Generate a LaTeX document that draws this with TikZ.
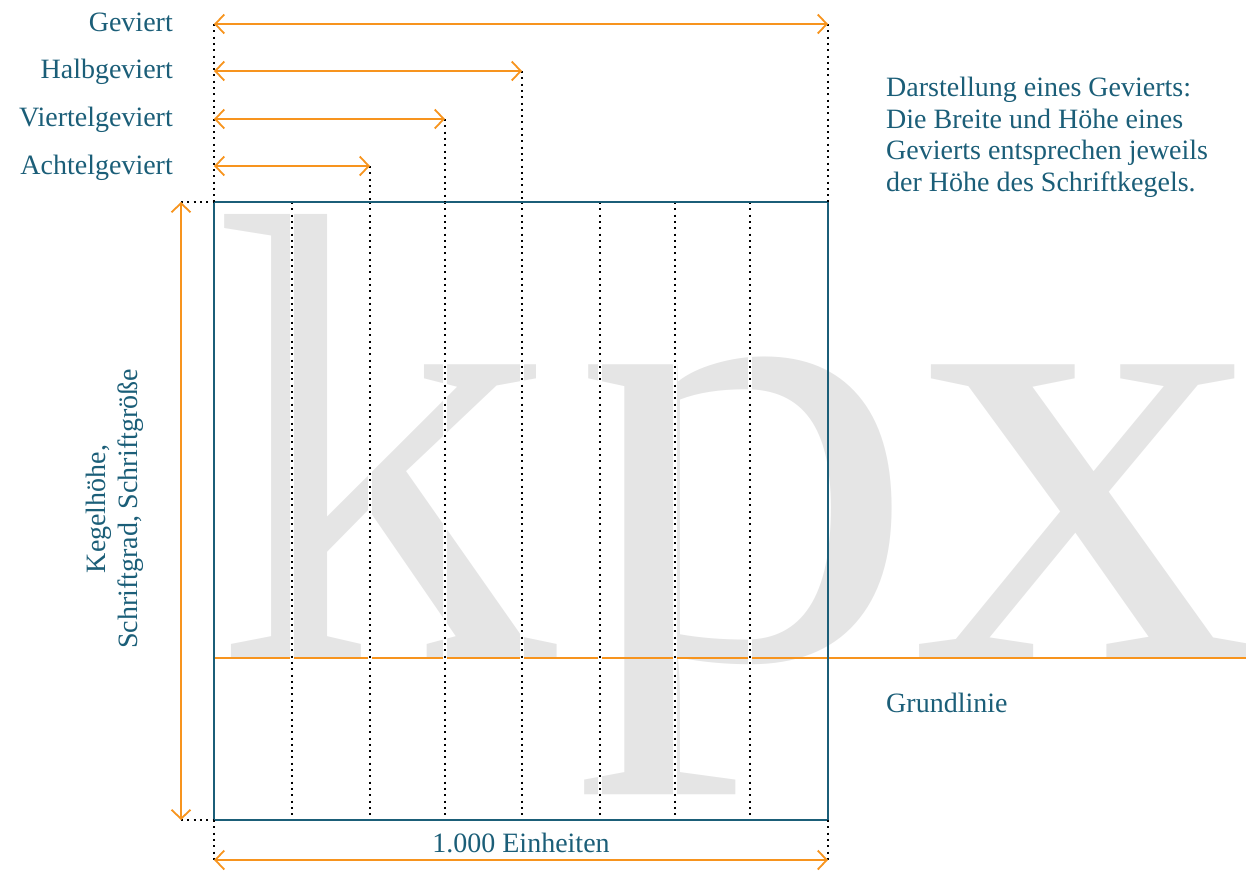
\documentclass[tikz,border=0pt]{standalone}
\usepackage{fontspec}
\usepackage{graphicx}
\setmainfont{Liberation Serif}
\usetikzlibrary{arrows.meta}
\definecolor{teal}{HTML}{1B5E78}
\definecolor{orng}{HTML}{F7941E}
\definecolor{kgray}{HTML}{E5E5E5}
\tikzset{
  lbl/.style={inner sep=0pt, text=teal, font=\fontsize{28}{31.5}\selectfont},
  big/.style={anchor=base west, inner sep=0pt, text=kgray, font=\fontsize{640}{640}\selectfont},
  dim/.style={draw=orng, line width=1.8pt, {Straight Barb[length=9pt,width=19pt]}-{Straight Barb[length=9pt,width=19pt]}},
  halo/.style={draw=white, line width=4pt},
  dots/.style={draw=black, line width=2pt, dash pattern=on 2pt off 4.3pt},
  frame/.style={draw=teal, line width=2pt},
  baseln/.style={draw=orng, line width=2pt}
}
\begin{document}
\begin{tikzpicture}[x=1pt,y=-1pt]
\useasboundingbox (0,0) rectangle (1246,870);
% big glyphs
\node[big] (gk) at (211,658) {\scalebox{1.08}[1]{k}};
\node[big] (gp) at (573,658) {\scalebox{1.08}[1]{p}};
\node[big] (gx) at (913,658) {\scalebox{1.08}[1]{x}};
% corners
\coordinate (tl) at (214,202);
\coordinate (tr) at (828,202);
\coordinate (bl) at (214,820);
\coordinate (br) at (828,820);
\coordinate (gl) at (214,658);
\coordinate (gr) at (1246,658);
% baseline
\draw[baseln] (gl) -- (gr);
% inner dotted lines
\foreach \x in {292,370,445,522,600,675,750}{
  \coordinate (t\x) at (\x,202);
  \coordinate (b\x) at (\x,820);
  \draw[halo] (t\x) -- (b\x);
  \draw[dots] (t\x) -- (b\x);
}
% frame
\draw[frame] (tl) rectangle (br);
% top dimension lines
\coordinate (a1l) at (214,24);  \coordinate (a1r) at (828,24);
\coordinate (a2l) at (214,71);  \coordinate (a2r) at (522,71);
\coordinate (a3l) at (214,119); \coordinate (a3r) at (445,119);
\coordinate (a4l) at (214,166); \coordinate (a4r) at (370,166);
\draw[dots] (a1l) -- (tl);
\draw[dots] (a1r) -- (tr);
\draw[dots] (a2r) -- (t522);
\draw[dots] (a3r) -- (t445);
\draw[dots] (a4r) -- (t370);
\draw[dim] (a1l) -- (a1r);
\draw[dim] (a2l) -- (a2r);
\draw[dim] (a3l) -- (a3r);
\draw[dim] (a4l) -- (a4r);
% left dimension
\coordinate (lt) at (181,202);
\coordinate (lb) at (181,820);
\draw[dots] (lt) -- (tl);
\draw[dots] (lb) -- (bl);
\draw[dim] (lt) -- (lb);
% bottom dimension
\coordinate (bbl) at (214,860);
\coordinate (bbr) at (828,860);
\draw[dots] (bl) -- (bbl);
\draw[dots] (br) -- (bbr);
\draw[dim] (bbl) -- (bbr);
% labels
\node[lbl, anchor=base east] (lgev) at (173,31) {Geviert};
\node[lbl, anchor=base east] (lhalb) at (173,78) {Halbgeviert};
\node[lbl, anchor=base east] (lviert) at (173,126) {Viertelgeviert};
\node[lbl, anchor=base east] (lacht) at (173,174) {Achtelgeviert};
\node[lbl, anchor=north west, align=left] (desc) at (886,77) {Darstellung eines Gevierts:\\Die Breite und Höhe eines\\Gevierts entsprechen jeweils\\der Höhe des Schriftkegels.};
\node[lbl, rotate=90, align=center] (kegel) at (115,509) {Kegelhöhe,\\Schriftgrad, Schriftgröße};
\node[lbl, anchor=base west] (grund) at (886,712) {Grundlinie};
\node[lbl, anchor=base] (einh) at (521,852) {1.000 Einheiten};
\end{tikzpicture}
\end{document}
